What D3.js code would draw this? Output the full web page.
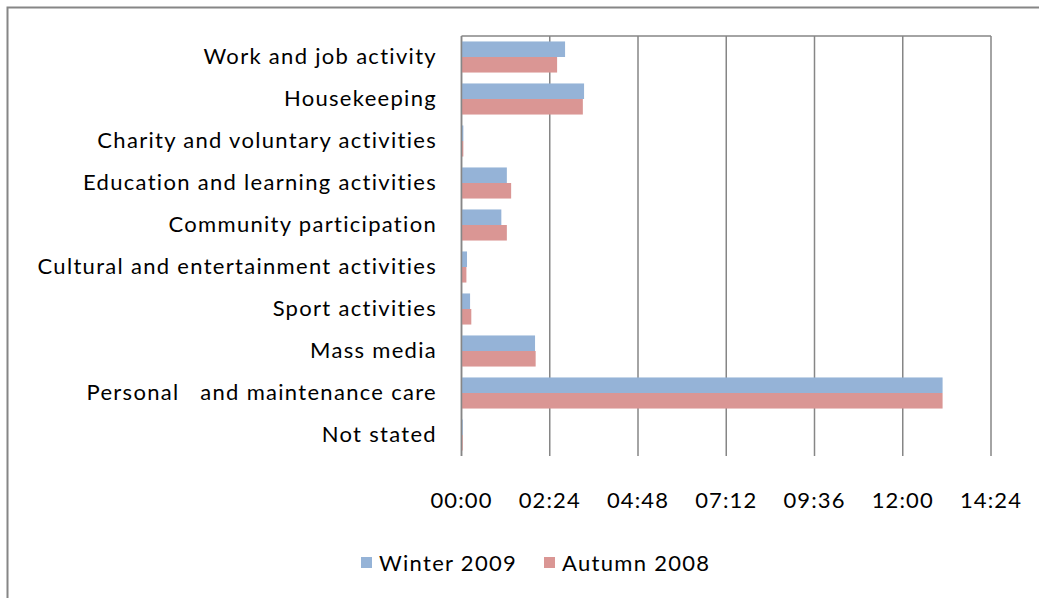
<!DOCTYPE html>
<html><head><meta charset="utf-8">
<script src="https://cdn.jsdelivr.net/npm/d3@7"></script>
<style>body{margin:0;background:#fff}svg{display:block}text{font-family:Lato,"Open Sans",sans-serif;fill:#000;letter-spacing:1.1px}text.lab{letter-spacing:1.3px}</style>
</head><body><svg id="c" width="1039" height="598"></svg>
<script>
const categories = ["Work and job activity","Housekeeping","Charity and voluntary activities","Education and learning activities","Community participation","Cultural and entertainment activities","Sport activities","Mass media","Personal   and maintenance care","Not stated"];
const seriesNames = ["Winter 2009","Autumn 2008"];
// minutes per day
const winter2009 = [169,200,3,74,65,9,14,120,785,2];
const autumn2008 = [156,198,3,81,74,8,16,121,785,2];
const tickValues = [0,144,288,432,576,720,864];
const colors = ["#95B3D7","#DA9694"];

const svg = d3.select("#c");
const m = {l:461.5, r:991, t:36, b:456};
const x = d3.scaleLinear().domain([0,864]).range([m.l,m.r]);
const y = d3.scaleBand().domain(categories).range([m.t,m.b]).paddingInner(0.26).paddingOuter(0.13);
const ys = d3.scaleBand().domain(seriesNames).range([0,y.bandwidth()]);
const fmt = v => d3.format("02")(Math.floor(v/60)) + ":" + d3.format("02")(v%60);

// outer frame
svg.append("path").attr("d","M7.5,1000 V7.5 H1100").attr("fill","none").attr("stroke","#868686").attr("stroke-width",2);

// gridlines
svg.append("g").selectAll("line").data(tickValues).join("line")
  .attr("x1",d=>x(d)).attr("x2",d=>x(d)).attr("y1",m.t).attr("y2",m.b)
  .attr("stroke","#868686").attr("stroke-width",1.5);
svg.append("line").attr("x1",m.l).attr("x2",m.r).attr("y1",m.t).attr("y2",m.t).attr("stroke","#868686").attr("stroke-width",1.5);

// bars
const data = categories.map((c,i)=>({c, v:[winter2009[i],autumn2008[i]]}));
const g = svg.append("g").selectAll("g").data(data).join("g").attr("transform",d=>`translate(0,${y(d.c)})`);
g.selectAll("rect").data(d=>d.v.map((v,j)=>({v,s:seriesNames[j],j}))).join("rect")
  .attr("x",x(0)).attr("y",d=>ys(d.s)).attr("height",ys.bandwidth())
  .attr("width",d=>x(d.v)-x(0)).attr("fill",d=>colors[d.j]);

// y axis
svg.append("line").attr("x1",m.l).attr("x2",m.l).attr("y1",m.t).attr("y2",m.b).attr("stroke","#868686").attr("stroke-width",1.5);

// category labels
svg.append("g").selectAll("text").data(categories).join("text").attr("class","lab")
  .attr("x",437).attr("y",d=>y(d)+y.bandwidth()/2).attr("dy","0.33em")
  .attr("text-anchor","end").attr("font-size",22).style("white-space","pre").text(d=>d);

// x tick labels
svg.append("g").selectAll("text").data(tickValues).join("text")
  .attr("x",d=>x(d)).attr("y",508).attr("text-anchor","middle").attr("font-size",22).text(fmt);

// legend
const lg = svg.append("g");
const lx = [361,544];
seriesNames.forEach((s,i)=>{
  lg.append("rect").attr("x",lx[i]).attr("y",557).attr("width",11).attr("height",11).attr("fill",colors[i]);
  lg.append("text").attr("class","lab").attr("x",lx[i]+18).attr("y",571).attr("font-size",22).text(s);
});
</script></body></html>
